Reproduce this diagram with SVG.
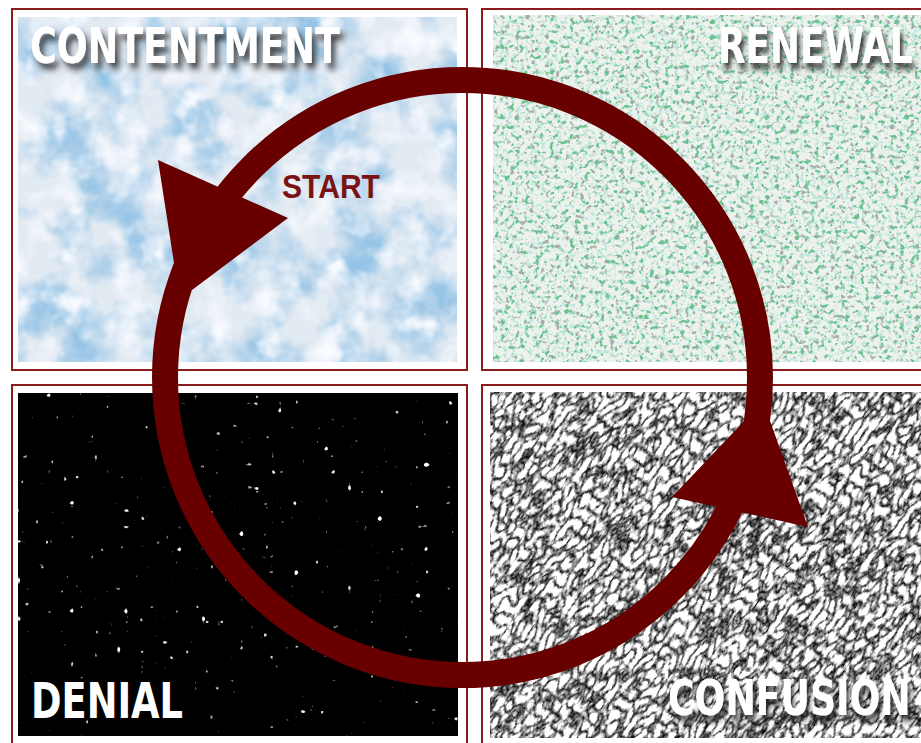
<svg xmlns="http://www.w3.org/2000/svg" width="921" height="743" viewBox="0 0 921 743">
<style>
.frame{fill:none;stroke:#8a1c1c;stroke-width:2}
.label{font-family:'DejaVu Sans Condensed','DejaVu Sans',sans-serif;font-weight:bold;font-size:50px;fill:#ffffff}
.shadowed{filter:url(#shadow)}
.ring{fill:none;stroke:#680000;stroke-width:26}
.head{fill:#680000}
.start{font-family:'Liberation Sans',Arial,sans-serif;font-weight:bold;font-size:34px;fill:#7a1414}
</style>
<defs>
<filter id="shadow" x="-10%" y="-30%" width="125%" height="180%">
<feDropShadow dx="4" dy="6" stdDeviation="3" flood-color="#1e1e1e" flood-opacity="0.85"/>
</filter>
<filter id="clouds" x="0" y="0" width="1" height="1" color-interpolation-filters="sRGB">
<feTurbulence type="fractalNoise" baseFrequency="0.018" numOctaves="4" seed="7" result="n"/>
<feColorMatrix in="n" type="matrix" values="0 0 0 0 0.89  0 0 0 0 0.92  0 0 0 0 0.95  3 0 0 0 -0.8" result="cloud"/>
<feTurbulence type="fractalNoise" baseFrequency="0.035" numOctaves="3" seed="19" result="m"/>
<feColorMatrix in="m" type="matrix" values="0 0 0 0 0.97  0 0 0 0 0.98  0 0 0 0 1  3 0 0 0 -1.35" result="hi"/>
<feMerge><feMergeNode in="SourceGraphic"/><feMergeNode in="cloud"/><feMergeNode in="hi"/></feMerge>
</filter>
<filter id="green" x="0" y="0" width="1" height="1" color-interpolation-filters="sRGB">
<feTurbulence type="fractalNoise" baseFrequency="0.2" numOctaves="2" seed="2" result="n1"/>
<feColorMatrix in="n1" type="matrix" values="0 0 0 0 0.4  0 0 0 0 0.76  0 0 0 0 0.56  7 0 0 0 -4.1" result="g1"/>
<feTurbulence type="fractalNoise" baseFrequency="0.2" numOctaves="2" seed="11" result="n2"/>
<feColorMatrix in="n2" type="matrix" values="0 0 0 0 0.64  0 0 0 0 0.67  0 0 0 0 0.65  7 0 0 0 -4.3" result="g2"/>
<feTurbulence type="fractalNoise" baseFrequency="0.24" numOctaves="2" seed="23" result="n3"/>
<feColorMatrix in="n3" type="matrix" values="0 0 0 0 0.74  0 0 0 0 0.9  0 0 0 0 0.87  6 0 0 0 -3.2" result="g3"/>
<feMerge><feMergeNode in="SourceGraphic"/><feMergeNode in="g3"/><feMergeNode in="g2"/><feMergeNode in="g1"/></feMerge>
</filter>
<filter id="stars" x="0" y="0" width="1" height="1" color-interpolation-filters="sRGB">
<feTurbulence type="fractalNoise" baseFrequency="0.13" numOctaves="1" seed="4" result="n"/>
<feColorMatrix in="n" type="matrix" values="0 0 0 0 1  0 0 0 0 1  0 0 0 0 1  18 0 0 0 -13.2" result="s"/>
<feTurbulence type="fractalNoise" baseFrequency="0.2" numOctaves="1" seed="31" result="n2"/>
<feColorMatrix in="n2" type="matrix" values="0 0 0 0 0.8  0 0 0 0 0.8  0 0 0 0 0.8  14 0 0 0 -10.4" result="s2"/>
<feMerge><feMergeNode in="SourceGraphic"/><feMergeNode in="s2"/><feMergeNode in="s"/></feMerge>
</filter>
<filter id="scribble" x="0" y="0" width="1" height="1" color-interpolation-filters="sRGB">
<feTurbulence type="turbulence" baseFrequency="0.15 0.075" numOctaves="3" seed="5" result="n"/>
<feColorMatrix in="n" type="matrix" values="2.7 0 0 0 -0.12  2.7 0 0 0 -0.12  2.7 0 0 0 -0.12  0 0 0 0 1"/>
</filter>
<clipPath id="clipBR"><rect x="490" y="392" width="440" height="346"/></clipPath>
</defs>

<g id="contentment">
<rect class="frame" x="12" y="9" width="455" height="361"/>
<rect x="18" y="17" width="439" height="345" fill="#96c4e6" filter="url(#clouds)"/>
<text class="label shadowed" x="30" y="63" textLength="310" lengthAdjust="spacingAndGlyphs">CONTENTMENT</text>
</g>

<g id="renewal">
<rect class="frame" x="482" y="9" width="460" height="361"/>
<rect x="493" y="15" width="440" height="347" fill="#eef2ec" filter="url(#green)"/>
<text class="label shadowed" transform="translate(718 63) scale(0.74 1)" x="0" y="0" textLength="263" lengthAdjust="spacingAndGlyphs">RENEWAL</text>
</g>

<g id="denial">
<rect class="frame" x="12" y="385" width="455" height="370"/>
<rect x="18" y="393" width="440" height="343" fill="#000000" filter="url(#stars)"/>
<text class="label" x="31" y="718" textLength="152" lengthAdjust="spacingAndGlyphs">DENIAL</text>
</g>

<g id="confusion">
<rect class="frame" x="482" y="385" width="460" height="370"/>
<g clip-path="url(#clipBR)">
<g transform="rotate(35 705 565)">
<rect x="380" y="250" width="650" height="630" fill="#ffffff" filter="url(#scribble)"/>
</g>
</g>
<text class="label shadowed" transform="translate(668 715) scale(0.74 1)" x="0" y="0" textLength="328" lengthAdjust="spacingAndGlyphs">CONFUSION</text>
</g>

<g id="connectors">
<circle class="ring" cx="462.5" cy="377.5" r="297.5"/>
<polygon class="head" points="158,160 288,218 192,290 174,263"/>
<polygon class="head" points="672,497 747,418 769,418 808,527"/>
</g>

<g id="start">
<text class="start" x="282" y="198" textLength="98" lengthAdjust="spacingAndGlyphs">START</text>
</g>
</svg>
